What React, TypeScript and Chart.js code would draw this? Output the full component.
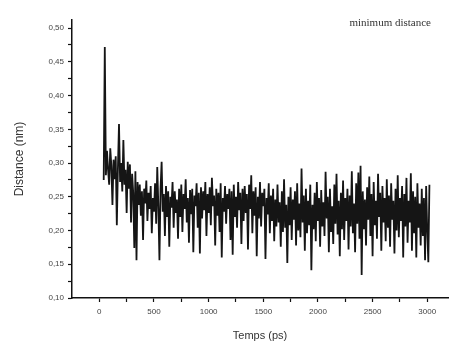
import React, { useEffect, useRef } from "react";
import { Chart, registerables } from "chart.js";

Chart.register(...registerables);

const seriesLabel = "minimum distance";
const xTitle = "Temps (ps)";
const yTitle = "Distance (nm)";

const startTime = 40;
const timeStep = 10;

const distance: number[] = [
  0.275, 0.472, 0.282, 0.318, 0.290, 0.268, 0.322, 0.296, 0.238, 0.305,
  0.276, 0.310, 0.208, 0.292, 0.358, 0.272, 0.300, 0.258, 0.334, 0.268,
  0.290, 0.226, 0.302, 0.262, 0.298, 0.212, 0.284, 0.256, 0.174, 0.288,
  0.156, 0.272, 0.238, 0.268, 0.222, 0.258, 0.186, 0.262, 0.240, 0.274,
  0.214, 0.256, 0.232, 0.266, 0.196, 0.248, 0.228, 0.270, 0.210, 0.294,
  0.236, 0.156, 0.262, 0.302, 0.228, 0.254, 0.192, 0.266, 0.220, 0.258,
  0.176, 0.250, 0.234, 0.272, 0.204, 0.258, 0.226, 0.246, 0.188, 0.262,
  0.220, 0.268, 0.198, 0.254, 0.232, 0.276, 0.212, 0.248, 0.182, 0.260,
  0.224, 0.262, 0.168, 0.252, 0.236, 0.270, 0.204, 0.256, 0.166, 0.264,
  0.218, 0.258, 0.230, 0.272, 0.192, 0.254, 0.226, 0.264, 0.208, 0.278,
  0.236, 0.252, 0.178, 0.262, 0.222, 0.256, 0.198, 0.270, 0.160, 0.248,
  0.228, 0.266, 0.210, 0.254, 0.232, 0.262, 0.186, 0.258, 0.164, 0.268,
  0.220, 0.250, 0.204, 0.272, 0.230, 0.256, 0.180, 0.262, 0.214, 0.266,
  0.226, 0.254, 0.172, 0.268, 0.232, 0.282, 0.196, 0.258, 0.222, 0.264,
  0.162, 0.250, 0.218, 0.272, 0.206, 0.256, 0.236, 0.262, 0.158, 0.248,
  0.224, 0.270, 0.196, 0.252, 0.214, 0.262, 0.184, 0.246, 0.206, 0.268,
  0.212, 0.242, 0.176, 0.258, 0.198, 0.276, 0.204, 0.238, 0.152, 0.250,
  0.208, 0.264, 0.186, 0.246, 0.216, 0.258, 0.178, 0.270, 0.200, 0.240,
  0.190, 0.292, 0.212, 0.252, 0.170, 0.262, 0.196, 0.244, 0.208, 0.268,
  0.141, 0.238, 0.202, 0.256, 0.184, 0.272, 0.214, 0.248, 0.176, 0.260,
  0.206, 0.242, 0.192, 0.287, 0.218, 0.250, 0.168, 0.262, 0.198, 0.236,
  0.180, 0.268, 0.210, 0.284, 0.194, 0.244, 0.162, 0.256, 0.202, 0.274,
  0.186, 0.248, 0.214, 0.262, 0.172, 0.252, 0.206, 0.288, 0.196, 0.240,
  0.168, 0.270, 0.210, 0.286, 0.188, 0.296, 0.134, 0.258, 0.202, 0.246,
  0.178, 0.264, 0.216, 0.280, 0.192, 0.254, 0.162, 0.272, 0.208, 0.244,
  0.188, 0.284, 0.220, 0.256, 0.170, 0.266, 0.212, 0.248, 0.184, 0.276,
  0.204, 0.252, 0.176, 0.270, 0.216, 0.244, 0.166, 0.262, 0.200, 0.282,
  0.190, 0.248, 0.214, 0.266, 0.160, 0.254, 0.206, 0.278, 0.182, 0.244,
  0.212, 0.285, 0.170, 0.258, 0.196, 0.250, 0.160, 0.270, 0.204, 0.240,
  0.178, 0.262, 0.192, 0.248, 0.156, 0.266, 0.200, 0.153, 0.268,
];

const xTickValues = [0, 250, 500, 750, 1000, 1250, 1500, 1750, 2000, 2250, 2500, 2750, 3000];
const xLabelValues = [0, 500, 1000, 1500, 2000, 2500, 3000];
const yTickValues = [
  0.1, 0.125, 0.15, 0.175, 0.2, 0.225, 0.25, 0.275, 0.3, 0.325, 0.35, 0.375, 0.4,
  0.425, 0.45, 0.475, 0.5,
];
const yLabelValues = [0.1, 0.15, 0.2, 0.25, 0.3, 0.35, 0.4, 0.45, 0.5];

const near = (a: number, list: number[]) => list.some((v) => Math.abs(v - a) < 1e-6);

const legendText = {
  id: "legendText",
  afterDraw(chart: any) {
    const ctx = chart.ctx;
    ctx.save();
    ctx.font = "11px 'Liberation Serif', serif";
    ctx.fillStyle = "#333";
    ctx.textAlign = "right";
    ctx.textBaseline = "middle";
    ctx.fillText(chart.data.datasets[0].label, 431, 23);
    ctx.restore();
  },
};

export default function App() {
  const ref = useRef<HTMLCanvasElement | null>(null);

  useEffect(() => {
    document.body.style.margin = "0";
    const points = distance.map((y, i) => ({ x: startTime + i * timeStep, y }));
    const chart = new Chart(ref.current!, {
      type: "line",
      data: {
        datasets: [
          {
            label: seriesLabel,
            data: points,
            borderColor: "#151515",
            borderWidth: 1.8,
            pointRadius: 0,
            tension: 0,
          },
        ],
      },
      options: {
        animation: false,
        responsive: false,
        events: [],
        layout: { padding: { left: 8, top: 20, right: 2, bottom: 0 } },
        plugins: { legend: { display: false }, tooltip: { enabled: false } },
        scales: {
          x: {
            type: "linear",
            min: -250,
            max: 3190,
            afterBuildTicks: (s: any) => {
              s.ticks = xTickValues.map((v) => ({ value: v }));
            },
            afterFit: (s: any) => {
              s.height = 46;
            },
            border: { display: true, color: "#111", width: 1.5 },
            grid: { drawOnChartArea: false, drawTicks: true, tickLength: 4, color: "#111", tickWidth: 1.2 },
            ticks: {
              autoSkip: false,
              maxRotation: 0,
              padding: 5,
              color: "#444",
              font: { family: "'Liberation Sans', Arial, sans-serif", size: 8 },
              callback: (v: any) => (near(Number(v), xLabelValues) ? String(v) : ""),
            },
            title: {
              display: true,
              text: xTitle,
              color: "#333",
              font: { family: "'Liberation Sans', Arial, sans-serif", size: 11 },
              padding: { top: 0, bottom: 1 },
            },
          },
          y: {
            type: "linear",
            min: 0.1,
            max: 0.512,
            afterBuildTicks: (s: any) => {
              s.ticks = yTickValues.map((v) => ({ value: v }));
            },
            afterFit: (s: any) => {
              s.width = 64;
            },
            border: { display: true, color: "#111", width: 1.5 },
            grid: { drawOnChartArea: false, drawTicks: true, tickLength: 4, color: "#111", tickWidth: 1.2 },
            ticks: {
              autoSkip: false,
              padding: 4,
              color: "#444",
              font: { family: "'Liberation Sans', Arial, sans-serif", size: 8 },
              callback: (v: any) =>
                near(Number(v), yLabelValues) ? Number(v).toFixed(2).replace(".", ",") : "",
            },
            title: {
              display: true,
              text: yTitle,
              color: "#333",
              font: { family: "'Liberation Sans', Arial, sans-serif", size: 12 },
              padding: { top: 4, bottom: 0 },
            },
          },
        },
      },
      plugins: [legendText],
    });
    return () => chart.destroy();
  }, []);

  return (
    <div style={{ width: 450, height: 344, background: "#fff" }}>
      <canvas ref={ref} width={450} height={344} style={{ display: "block" }} />
    </div>
  );
}
